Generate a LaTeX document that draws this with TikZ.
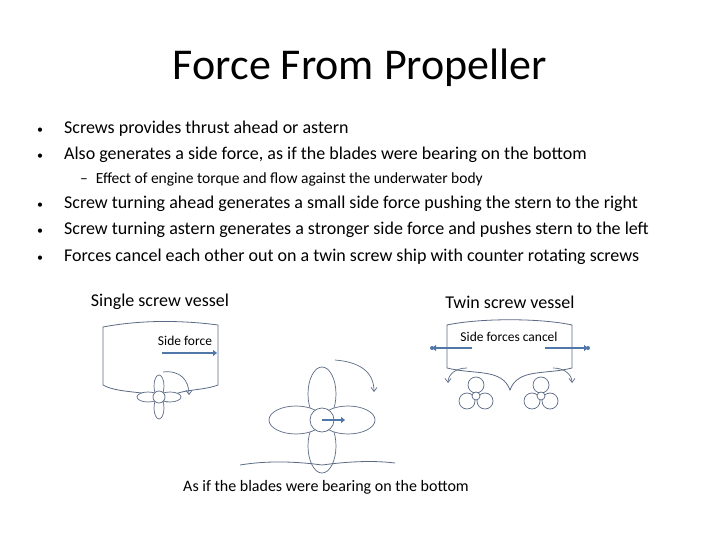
\documentclass[tikz,border=0pt]{standalone}
\usepackage{fontspec}
\setmainfont{Carlito}
\usetikzlibrary{arrows.meta}
\definecolor{ln}{HTML}{5A6A85}
\definecolor{ar}{HTML}{4F77A8}
\tikzset{hull/.style={draw=ln,line width=0.8pt},
 blade/.style={draw=ln,line width=0.7pt,fill=white},
 force/.style={draw=ar,line width=2pt,-{Triangle[length=4pt,width=6pt]}},
 turn/.style={draw=ln,line width=0.7pt,-{Straight Barb[length=4pt,width=6pt]}},
 txt/.style={anchor=base west,font=\fontsize{18}{20}\selectfont,inner sep=0pt},
 bul/.style={anchor=base west,font=\fontsize{12}{14}\selectfont,inner sep=0pt}}
\begin{document}
\begin{tikzpicture}[x=1pt,y=-1pt]
\useasboundingbox (0,0) rectangle (720,540);
\node (title) at (360,68) {\fontsize{44}{48}\selectfont Force From Propeller};
\foreach \y/\t [count=\i] in {134/Screws provides thrust ahead or astern,
 160/{Also generates a side force, as if the blades were bearing on the bottom},
 209/Screw turning ahead generates a small side force pushing the stern to the right,
 235/Screw turning astern generates a stronger side force and pushes stern to the left,
 261/Forces cancel each other out on a twin screw ship with counter rotating screws}
 {\node[bul] (b\i) at (37,\y) {•}; \node[txt] (t\i) at (64,\y) {\t};}
\node[anchor=base west,inner sep=0pt,font=\fontsize{15.5}{17}\selectfont] (sub) at (80,184) {–\hspace{8pt}Effect of engine torque and flow against the underwater body};
\node[font=\fontsize{18}{20}\selectfont] (l1) at (160,302) {Single screw vessel};
\node[font=\fontsize{18}{20}\selectfont] (l2) at (510,302) {Twin screw vessel};
% single hull
\draw[hull] (103,385) -- (103,327) .. controls (140,320) and (180,320) .. (218,325) -- (218,385)
 .. controls (200,392) and (172,388) .. (167,402) .. controls (162,390) and (120,395) .. (103,385);
\node[font=\fontsize{13.5}{15}\selectfont] (sf) at (185,341) {Side force};
\coordinate (sfa) at (162,353); \coordinate (sfb) at (217,353);
\draw[force] (sfa) -- (sfb);
\coordinate (c1a) at (163,372); \coordinate (c1b) at (189,395);
\draw[turn] (c1a) .. controls (180,370) and (189,380) .. (c1b);
\begin{scope}[shift={(159,397)}]
\draw[blade] (0,-11) ellipse (5 and 11); \draw[blade] (0,11) ellipse (5 and 11);
\draw[blade] (-11,0) ellipse (11 and 5); \draw[blade] (11,0) ellipse (11 and 5);
\draw[blade] (0,0) circle (6);
\end{scope}
% big prop
\begin{scope}[shift={(322,420)}]
\draw[blade] (0,-26) ellipse (14 and 27); \draw[blade] (0,26) ellipse (14 and 27);
\draw[blade] (-26,0) ellipse (27 and 14); \draw[blade] (26,0) ellipse (27 and 14);
\draw[blade] (0,0) circle (12);
\end{scope}
\coordinate (pa) at (322,420); \coordinate (pb) at (345,420);
\draw[force] (pa) -- (pb);
\coordinate (c2a) at (335,360); \coordinate (c2b) at (374,392);
\draw[turn] (c2a) .. controls (360,362) and (374,372) .. (c2b);
\draw[hull] (240,465) .. controls (270,460) and (300,462) .. (322,465) .. controls (345,462) and (370,460) .. (395,463);
\node[font=\fontsize{16}{18}\selectfont] (bot) at (326,487) {As if the blades were bearing on the bottom};
% twin hull
\draw[hull] (447,368) -- (447,325) .. controls (480,318) and (540,318) .. (572,325) -- (572,368)
 .. controls (545,375) and (518,368) .. (510,390) .. controls (502,368) and (475,375) .. (447,368);
\node[font=\fontsize{13.5}{15}\selectfont] (sfc) at (509,337) {Side forces cancel};
\coordinate (l1a) at (472,348); \coordinate (l1b) at (432,348);
\coordinate (r1a) at (545,348); \coordinate (r1b) at (588,348);
\draw[force] (l1a) -- (l1b); \fill[ar] (l1b) circle (2);
\draw[force] (r1a) -- (r1b); \fill[ar] (r1b) circle (2);
\coordinate (t1a) at (467,368); \coordinate (t1b) at (448,383);
\draw[turn] (t1a) .. controls (455,368) and (448,375) .. (t1b);
\coordinate (t2a) at (553,368); \coordinate (t2b) at (572,383);
\draw[turn] (t2a) .. controls (565,368) and (572,375) .. (t2b);
\foreach \cx in {476,541}{
\begin{scope}[shift={(\cx,393)}]
\draw[blade] (0,-8) circle (8); \draw[blade] (-9,8) circle (8); \draw[blade] (9,8) circle (8);
\draw[blade] (0,3) circle (4);
\end{scope}}
\end{tikzpicture}
\end{document}
